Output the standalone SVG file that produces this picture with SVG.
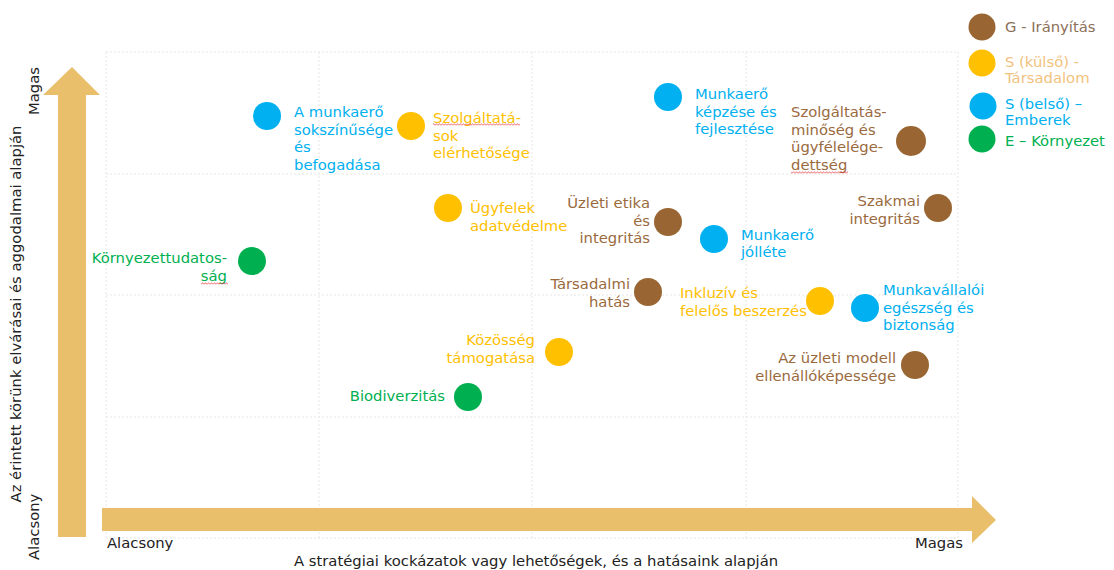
<svg xmlns="http://www.w3.org/2000/svg" width="1114" height="570" viewBox="0 0 1114 570">
<style>
text{font-family:"DejaVu Sans",Verdana,"Liberation Sans",sans-serif;font-size:14.8px}
.grid{stroke:#e6e6e6;stroke-width:1;stroke-dasharray:2 2;fill:none}
.arrow{fill:#E9BF6B}
.ax{fill:#222222}
.g{fill:#996633}
.y{fill:#FFC000}
.b{fill:#00B0F0}
.e{fill:#00B050}
.tg{fill:#9A6A3E}
.ty{fill:#FFC000}
.tb{fill:#00B0F0}
.te{fill:#00B050}
.end{text-anchor:end}
</style>
<defs>
<pattern id="wavy" width="3" height="3" patternUnits="userSpaceOnUse">
<path d="M0,2.5 L1.5,0.7 L3,2.5" fill="none" stroke="#E8484A" stroke-width="0.8"/>
</pattern>
</defs>
<rect width="1114" height="570" fill="#ffffff"/>

<g id="grid">
<line class="grid" x1="106" y1="52" x2="958" y2="52"/>
<line class="grid" x1="106" y1="174" x2="958" y2="174"/>
<line class="grid" x1="106" y1="295" x2="958" y2="295"/>
<line class="grid" x1="106" y1="417" x2="958" y2="417"/>
<line class="grid" x1="106" y1="538" x2="958" y2="538"/>
<line class="grid" x1="106" y1="52" x2="106" y2="538"/>
<line class="grid" x1="319" y1="52" x2="319" y2="538"/>
<line class="grid" x1="532" y1="52" x2="532" y2="538"/>
<line class="grid" x1="746" y1="52" x2="746" y2="538"/>
<line class="grid" x1="958" y1="52" x2="958" y2="538"/>
</g>

<g id="axes">
<polygon class="arrow" points="102,508 972,508 972,496 996,520 972,543 972,531 102,531"/>
<polygon class="arrow" points="58,537 58,95 43,95 72,67 100,95 86,95 86,537"/>
<text class="ax" x="107" y="548">Alacsony</text>
<text class="ax end" x="963" y="548">Magas</text>
<text class="ax" x="536" y="566" text-anchor="middle">A stratégiai kockázatok vagy lehetőségek, és a hatásaink alapján</text>
<text class="ax" transform="translate(39,115) rotate(-90)">Magas</text>
<text class="ax" transform="translate(39,560) rotate(-90)">Alacsony</text>
<text class="ax" transform="translate(21,314) rotate(-90)" text-anchor="middle">Az érintett körünk elvárásai és aggodalmai alapján</text>
</g>

<g id="legend">
<circle class="g" cx="982" cy="27" r="13.5"/>
<text x="1005" y="32" fill="#8C7058">G - Irányítás</text>
<circle class="y" cx="982" cy="63" r="13.5"/>
<text x="1005" y="67" fill="#F2C27E">S (külső) -</text>
<text x="1005" y="83" fill="#F2C27E">Társadalom</text>
<circle class="b" cx="983" cy="106" r="13.5"/>
<text class="tb" x="1005" y="109">S (belső) –</text>
<text class="tb" x="1005" y="125">Emberek</text>
<circle class="e" cx="982" cy="139" r="13.5"/>
<text class="te" x="1005" y="146">E – Környezet</text>
</g>

<g id="connectors"></g>

<g id="n-diverzitas">
<circle class="b" cx="267" cy="116" r="14"/>
<text class="tb" x="294" y="117">A munkaerő</text>
<text class="tb" x="294" y="134.5">sokszínűsége</text>
<text class="tb" x="294" y="152">és</text>
<text class="tb" x="294" y="169.5">befogadása</text>
</g>

<g id="n-szolgaltatasok">
<circle class="y" cx="411" cy="126" r="14"/>
<text class="ty" x="433" y="123">Szolgáltatá-</text>
<text class="ty" x="433" y="140.5">sok</text>
<text class="ty" x="433" y="158">elérhetősége</text>
<rect x="433" y="123" width="87" height="3" fill="url(#wavy)"/>
</g>

<g id="n-adatvedelem">
<circle class="y" cx="448" cy="208" r="14"/>
<text class="ty" x="470" y="213">Ügyfelek</text>
<text class="ty" x="470" y="230.5">adatvédelme</text>
</g>

<g id="n-kornyezet">
<circle class="e" cx="252" cy="261" r="14"/>
<text class="te end" x="227" y="263">Környezettudatos-</text>
<text class="te end" x="227" y="280.5">ság</text>
<rect x="201" y="282" width="27" height="3" fill="url(#wavy)"/>
</g>

<g id="n-kepzes">
<circle class="b" cx="668" cy="97" r="14"/>
<text class="tb" x="695" y="99">Munkaerő</text>
<text class="tb" x="695" y="116.5">képzése és</text>
<text class="tb" x="695" y="134">fejlesztése</text>
</g>

<g id="n-minoseg">
<circle class="g" cx="911" cy="141" r="15"/>
<text class="tg" x="791" y="117">Szolgáltatás-</text>
<text class="tg" x="791" y="134.5">minőség és</text>
<text class="tg" x="791" y="152">ügyfélelége-</text>
<text class="tg" x="791" y="169.5">dettség</text>
<rect x="791" y="171" width="57" height="3" fill="url(#wavy)"/>
</g>

<g id="n-szakmai">
<circle class="g" cx="938" cy="208" r="14"/>
<text class="tg end" x="920" y="206">Szakmai</text>
<text class="tg end" x="920" y="223.5">integritás</text>
</g>

<g id="n-etika">
<circle class="g" cx="668" cy="222" r="14"/>
<text class="tg end" x="650" y="208">Üzleti etika</text>
<text class="tg end" x="650" y="225.5">és</text>
<text class="tg end" x="650" y="243">integritás</text>
</g>

<g id="n-jollet">
<circle class="b" cx="714" cy="239" r="14"/>
<text class="tb" x="741" y="239.5">Munkaerő</text>
<text class="tb" x="741" y="257">jólléte</text>
</g>

<g id="n-tarsadalmi">
<circle class="g" cx="648" cy="292" r="14"/>
<text class="tg end" x="630" y="289">Társadalmi</text>
<text class="tg end" x="630" y="306.5">hatás</text>
</g>

<g id="n-beszerzes">
<circle class="y" cx="820" cy="301" r="14"/>
<text class="ty" x="680" y="298">Inkluzív és</text>
<text class="ty" x="680" y="315.5">felelős beszerzés</text>
</g>

<g id="n-egeszseg">
<circle class="b" cx="865" cy="308" r="14"/>
<text class="tb" x="883" y="295">Munkavállalói</text>
<text class="tb" x="883" y="312.5">egészség és</text>
<text class="tb" x="883" y="330">biztonság</text>
</g>

<g id="n-uzleti-modell">
<circle class="g" cx="915" cy="365" r="14"/>
<text class="tg end" x="896" y="363">Az üzleti modell</text>
<text class="tg end" x="896" y="380.5">ellenállóképessége</text>
</g>

<g id="n-kozosseg">
<circle class="y" cx="559" cy="352" r="14"/>
<text class="ty end" x="535" y="345">Közösség</text>
<text class="ty end" x="535" y="362.5">támogatása</text>
</g>

<g id="n-biodiverzitas">
<circle class="e" cx="468" cy="397" r="14"/>
<text class="te end" x="445" y="401">Biodiverzitás</text>
</g>
</svg>
